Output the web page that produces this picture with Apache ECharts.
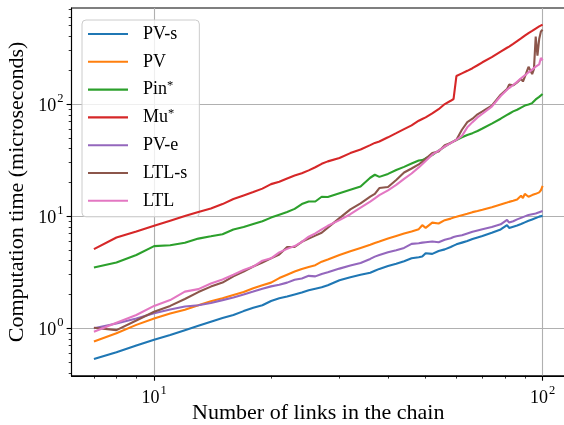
<!DOCTYPE html>
<html>
<head>
<meta charset="utf-8">
<script src="https://cdn.jsdelivr.net/npm/echarts@6/dist/echarts.min.js"></script>
<style>
html, body { margin: 0; padding: 0; background: #fff; }
#chart { width: 564px; height: 425px; }
</style>
</head>
<body>
<div id="chart"></div>
<script>
// Number of links in the chain (x values)
const links = [7,8,9,10,11,12,13,14,15,16,17,18,19,20,21,22,23,24,25,26,27,28,
  30,32,34,36,37,38, 40,42,44,46,48,49,50, 52,54,56,58,59,60, 62,64,66,68,70,
  74,78,81,82,84,86,88,89,90, 92,94,95,96,97,98,99,100];

// Computation time (microseconds)
const pvS = [0.53,0.61,0.70,0.79,0.87,0.96,1.05,1.14,1.23,1.31,1.42,1.52,1.60,1.75,1.85,1.92,2.00,2.08,2.18,2.25,2.32,2.42,
  2.68,2.85,3.00,3.12,3.25,3.38, 3.58,3.75,3.95,4.20,4.30,4.36,4.67, 4.60,4.88,5.05,5.30,5.45,5.60,
  5.80,6.00,6.25,6.45,6.65, 7.10,7.60,8.30,7.85,8.05,8.25,8.50,8.65,8.80, 9.10,9.35,9.45,9.60,9.75,9.90,9.95,10.05];
const pv = [0.76,0.90,1.07,1.22,1.35,1.46,1.60,1.74,1.85,1.98,2.10,2.27,2.42,2.55,2.80,3.00,3.20,3.38,3.52,3.65,3.92,4.10,
  4.50,4.85,5.20,5.55,5.75,5.93, 6.30,6.65,7.00,7.30,7.65,8.30,7.85, 8.75,8.60,9.20,9.50,9.70,9.85,
  10.2,10.5,10.85,11.1,11.4, 12.0,12.7,13.2,13.4,13.7,14.1,15.2,14.5,15.8, 14.9,15.4,15.6,15.8,16.0,16.3,17.0,18.6];
const pinStar = [3.48,3.85,4.50,5.40,5.50,5.78,6.30,6.60,6.90,7.60,8.00,8.50,9.00,9.70,10.3,10.9,11.6,12.8,13.5,13.5,14.9,14.8,
  16.0,17.2,18.4,22.0,23.4,22.4, 23.8,25.8,27.5,29.5,31.4,31.6,32.8, 35.0,38.5,41.8,45.0,46.4,47.8,
  50.5,53.0,55.0,57.5,60.5, 67,74,80,82,86,89,93,95,97, 99,102,104,110,113,116,119,123];
const muStar = [5.07,6.44,7.30,8.20,9.10,10.0,10.9,11.7,12.8,14.2,15.3,16.4,17.6,19.3,20.3,21.7,23.0,24.1,25.6,27.3,29.3,30.8,
  33.0,36.5,39.3,43.0,45.0,46.3, 50.5,55.0,59.8,64.5,71.0,73.5,76.0, 82.5,90,100,107,111,178,
  188,198,209,222,236, 262,294,318,326,345,365,385,396,408, 430,450,462,472,484,493,502,511];
const pvE = [1.00,1.10,1.22,1.36,1.47,1.56,1.60,1.68,1.78,1.88,2.00,2.12,2.25,2.36,2.44,2.55,2.70,2.78,2.93,2.90,3.05,3.15,
  3.40,3.62,3.82,4.15,4.35,4.50, 4.75,4.95,5.20,5.65,5.72,5.80,5.85, 5.93,5.85,6.15,6.35,6.50,6.60,
  6.75,7.00,7.25,7.45,7.65, 8.00,8.45,9.27,8.75,9.00,9.35,9.65,9.80,9.95, 10.25,10.4,10.5,10.55,10.7,10.85,11.0,11.1];
const ltlS = [1.01,0.96,1.17,1.40,1.58,1.82,2.10,2.35,2.55,2.90,3.20,3.55,3.85,4.20,4.55,5.30,5.30,5.90,6.30,6.70,7.10,7.90,
  9.60,11.5,13.0,14.9,15.8,17.8, 18.2,21.0,24.5,26.6,29.0,30.5,32.5, 36.5,37.7,43.0,45.0,46.5,48.0,
  59.0,69.0,74.0,81.0,86.0, 97,121,136,149,147,156,168,159,175, 215,185,205,400,270,380,445,460];
const ltl = [0.93,1.12,1.31,1.58,1.78,2.12,2.23,2.50,2.72,3.00,3.30,3.55,4.00,4.20,4.75,5.10,5.40,5.90,6.55,7.00,7.60,8.20,
  9.20,10.4,11.9,13.5,14.4,15.4, 17.0,19.0,21.5,24.0,27.2,29.0,31.0, 35.3,38.5,41.8,44.8,46.5,48.0,
  52.0,62.0,69.0,76.0,82.0, 95,118,134,139,148,158,170,176,180, 192,203,210,216,222,226,258,245];

const seriesNames = ['PV-s','PV','Pin*','Mu*','PV-e','LTL-s','LTL'];
const seriesValues = [pvS, pv, pinStar, muStar, pvE, ltlS, ltl];
const colors = ['#1f77b4','#ff7f0e','#2ca02c','#d62728','#9467bd','#8c564b','#e377c2'];

// axis ticks
const xMajorTicks = [10, 100];
const xMinorTicks = [7,8,9,20,30,40,50,60,70,80,90];
const yMajorTicks = [1, 10, 100];
const yMinorTicks = [0.4,0.5,0.6,0.7,0.8,0.9,2,3,4,5,6,7,8,9,20,30,40,50,60,70,80,90,200,300,400,500,600,700];

const FONT = 'Liberation Serif';
const X_MIN = 6.129, X_MAX = 114.2, Y_MIN = 0.3758, Y_MAX = 720;

function powLabel(v) {
  const e = Math.round(Math.log10(v));
  return '{b|10}{s|' + e + '}';
}
const powRich = {
  b: { fontFamily: FONT, fontSize: 18, color: '#000', padding: [5, 0, 0, 0], verticalAlign: 'bottom' },
  s: { fontFamily: FONT, fontSize: 12.5, color: '#000', verticalAlign: 'top', padding: [0, 0, 0, 1] }
};

const chart = echarts.init(document.getElementById('chart'), null, { renderer: 'canvas' });

const option = {
  animation: false,
  backgroundColor: '#fff',
  grid: {
    left: 71.5, right: -1, top: 8, bottom: 49.2,
    outerBoundsMode: 'none',
    containLabel: false,
    show: true, borderColor: '#000', borderWidth: 1.1, backgroundColor: 'transparent'
  },
  legend: {
    orient: 'vertical',
    left: 82, top: 20,
    padding: [4, 12, 6, 6],
    itemWidth: 40, itemHeight: 2.1,
    itemGap: 7.8,
    icon: 'rect',
    backgroundColor: 'rgba(255,255,255,0.8)',
    borderColor: '#cccccc', borderWidth: 1, borderRadius: 4,
    data: seriesNames,
    formatter: function (name) { return name.replace('*', '{sup|*}'); },
    textStyle: {
      fontFamily: FONT, fontSize: 18, color: '#000', lineHeight: 20,
      padding: [0, 0, 0, 10],
      rich: { sup: { fontFamily: FONT, fontSize: 12.5, color: '#000', verticalAlign: 'top', lineHeight: 14 } }
    }
  },
  xAxis: [
    {
      type: 'log', logBase: 10, min: X_MIN, max: X_MAX,
      name: 'Number of links in the chain', nameLocation: 'middle', nameGap: 26,
      nameMoveOverlap: false,
      nameTextStyle: { fontFamily: FONT, fontSize: 22, color: '#000' },
      axisLine: { show: true, lineStyle: { color: '#000', width: 1.1 } },
      axisTick: { show: true, length: 4.9, lineStyle: { color: '#000', width: 1.1 }, customValues: xMajorTicks },
      axisLabel: { customValues: xMajorTicks, margin: 8, formatter: powLabel, rich: powRich },
      splitLine: { show: true, lineStyle: { color: '#b0b0b0', width: 1.1 } },
      minorTick: { show: false }
    },
    {
      type: 'log', logBase: 10, min: X_MIN, max: X_MAX, position: 'bottom',
      axisLine: { show: false },
      axisTick: { show: true, length: 2.8, lineStyle: { color: '#000', width: 0.8 }, customValues: xMinorTicks },
      axisLabel: { show: false },
      splitLine: { show: false }
    }
  ],
  yAxis: [
    {
      type: 'log', logBase: 10, min: Y_MIN, max: Y_MAX,
      name: 'Computation time (microseconds)', nameLocation: 'middle', nameGap: 43,
      nameMoveOverlap: false,
      nameTextStyle: { fontFamily: FONT, fontSize: 22, color: '#000' },
      axisLine: { show: true, lineStyle: { color: '#000', width: 1.1 } },
      axisTick: { show: true, length: 4.9, lineStyle: { color: '#000', width: 1.1 }, customValues: yMajorTicks },
      axisLabel: { customValues: yMajorTicks, margin: 8, formatter: powLabel, rich: powRich },
      splitLine: { show: true, lineStyle: { color: '#b0b0b0', width: 1.1 } }
    },
    {
      type: 'log', logBase: 10, min: Y_MIN, max: Y_MAX, position: 'left',
      axisLine: { show: false },
      axisTick: { show: true, length: 2.8, lineStyle: { color: '#000', width: 0.8 }, customValues: yMinorTicks },
      axisLabel: { show: false },
      splitLine: { show: false }
    }
  ],
  series: seriesNames.map(function (name, i) {
    return {
      name: name,
      type: 'line',
      xAxisIndex: 0, yAxisIndex: 0,
      showSymbol: false, symbol: 'none',
      color: colors[i],
      lineStyle: { color: colors[i], width: 2.1 },
      data: links.map(function (x, j) { return [x, seriesValues[i][j]]; }),
      z: 2 + i
    };
  })
};

chart.setOption(option);
</script>
</body>
</html>
